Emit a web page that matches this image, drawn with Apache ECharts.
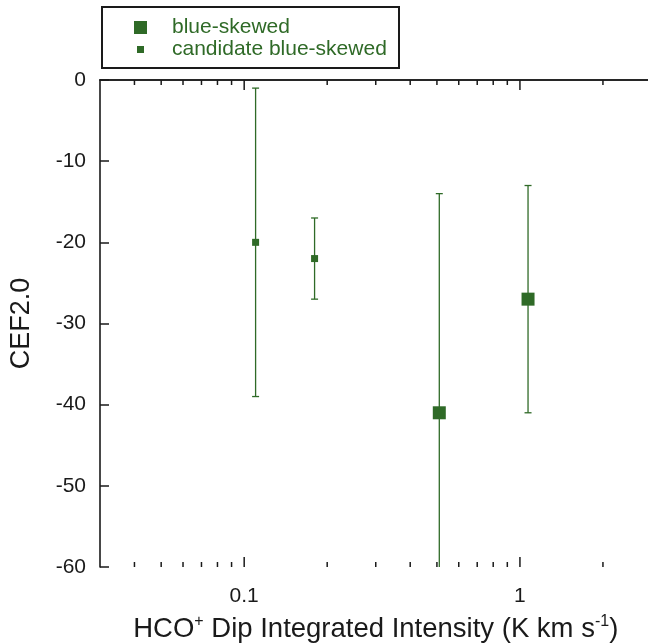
<!DOCTYPE html>
<html>
<head>
<meta charset="utf-8">
<script src="https://cdn.jsdelivr.net/npm/echarts@6/dist/echarts.min.js"></script>
<style>
  html, body { margin: 0; padding: 0; background: #fff; }
  #chart { width: 648px; height: 643px; }
</style>
</head>
<body>
<div id="chart"></div>
<script>
// blue-skewed sources: x, y and error bar ends
var blueX = [0.51, 1.07];
var blueY = [-41, -27];
var blueHigh = [-14, -13];
var blueLow = [-68, -41];

// candidate blue-skewed sources
var candX = [0.11, 0.18];
var candY = [-20, -22];
var candHigh = [-1, -17];
var candLow = [-39, -27];

// log axis tick values
var majorTicks = [0.1, 1];
var minorTicks = [0.04, 0.05, 0.06, 0.07, 0.08, 0.09, 0.2, 0.3, 0.4, 0.5, 0.6, 0.7, 0.8, 0.9, 2, 3];

var green = '#2f6a27';
var ink = '#1a1a1a';
var font = '"Liberation Sans", Arial, Helvetica, sans-serif';

function points(xs, ys) {
    var out = [];
    for (var i = 0; i < xs.length; i++) out.push([xs[i], ys[i]]);
    return out;
}
function bars(xs, lo, hi) {
    var out = [];
    for (var i = 0; i < xs.length; i++) out.push([xs[i], lo[i], hi[i]]);
    return out;
}

// vertical error bar with caps
function renderErr(params, api) {
    var lo = api.coord([api.value(0), api.value(1)]);
    var hi = api.coord([api.value(0), api.value(2)]);
    var cap = 3.5;
    var st = { stroke: green, lineWidth: 1.3 };
    return {
        type: 'group',
        children: [
            { type: 'line', shape: { x1: lo[0], y1: lo[1], x2: hi[0], y2: hi[1] }, style: st },
            { type: 'line', shape: { x1: lo[0] - cap, y1: lo[1], x2: lo[0] + cap, y2: lo[1] }, style: st },
            { type: 'line', shape: { x1: hi[0] - cap, y1: hi[1], x2: hi[0] + cap, y2: hi[1] }, style: st }
        ]
    };
}

// inward ticks on bottom and top axes
function tickRenderer(len) {
    return function (params, api) {
        var b = api.coord([api.value(0), -60]);
        var t = api.coord([api.value(0), 0]);
        var st = { stroke: ink, lineWidth: 1.5 };
        return {
            type: 'group',
            children: [
                { type: 'line', shape: { x1: b[0], y1: b[1], x2: b[0], y2: b[1] - len }, style: st },
                { type: 'line', shape: { x1: t[0], y1: t[1], x2: t[0], y2: t[1] + len }, style: st }
            ]
        };
    };
}

function makeX(pos, withLabels) {
    var ax = {
        type: 'log',
        logBase: 10,
        min: 0.03,
        max: 3,
        position: pos,
        gridIndex: 0,
        axisLine: { show: true, lineStyle: { color: ink, width: 1.6 } },
        axisTick: { show: false },
        splitLine: { show: false },
        minorTick: { show: false },
        minorSplitLine: { show: false },
        axisLabel: { show: false }
    };
    if (withLabels) {
        ax.name = '{n|HCO}{sup|+}{n| Dip Integrated Intensity (K km s}{sup|-1}{n|)}';
        ax.nameLocation = 'middle';
        ax.nameGap = 47;
        ax.nameTextStyle = {
            rich: {
                n: { fontSize: 27.5, lineHeight: 31, color: ink, fontFamily: font },
                sup: { fontSize: 16, lineHeight: 21, verticalAlign: 'top', color: ink, fontFamily: font }
            }
        };
        ax.axisLabel = {
            show: true,
            margin: 19,
            fontSize: 21,
            color: ink,
            fontFamily: font,
            showMinLabel: false,
            showMaxLabel: false
        };
    }
    return ax;
}

var chart = echarts.init(document.getElementById('chart'), null, { renderer: 'canvas' });

var option = {
    animation: false,
    backgroundColor: '#fff',
    textStyle: { fontFamily: font },
    grid: {
        left: 100,
        top: 80,
        right: -3.5,
        bottom: 76,
        containLabel: false,
        outerBoundsMode: 'none'
    },
    graphic: [{
        type: 'rect',
        shape: { x: 102, y: 7, width: 297, height: 61 },
        style: { fill: 'none', stroke: ink, lineWidth: 2 },
        z: 100
    }],
    legend: [{
        data: ['blue-skewed'],
        icon: 'rect',
        itemWidth: 13,
        itemHeight: 13,
        left: 134,
        top: 16,
        padding: 0,
        selectedMode: false,
        textStyle: { color: green, fontSize: 21, lineHeight: 23, fontFamily: font, padding: [0, 0, 0, 20] }
    }, {
        data: ['candidate blue-skewed'],
        icon: 'rect',
        itemWidth: 7,
        itemHeight: 7,
        left: 137,
        top: 38,
        padding: 0,
        selectedMode: false,
        textStyle: { color: green, fontSize: 21, lineHeight: 23, fontFamily: font, padding: [0, 0, 0, 23] }
    }],
    xAxis: [makeX('bottom', true), makeX('top', false)],
    yAxis: [{
        type: 'value',
        min: -60,
        max: 0,
        interval: 10,
        name: 'CEF2.0',
        nameLocation: 'middle',
        nameGap: 65,
        nameTextStyle: { fontSize: 27, color: ink, fontFamily: font },
        axisLine: { show: true, lineStyle: { color: ink, width: 1.6 } },
        axisTick: { show: true, inside: true, length: 9, lineStyle: { color: ink, width: 1.5 } },
        axisLabel: { fontSize: 21, color: ink, margin: 14, fontFamily: font },
        splitLine: { show: false }
    }],
    series: [{
        name: 'major ticks',
        type: 'custom',
        xAxisIndex: 0,
        yAxisIndex: 0,
        renderItem: tickRenderer(10),
        data: majorTicks.map(function (v) { return [v]; }),
        encode: { x: 0 },
        silent: true,
        clip: false,
        z: 5
    }, {
        name: 'minor ticks',
        type: 'custom',
        xAxisIndex: 0,
        yAxisIndex: 0,
        renderItem: tickRenderer(5),
        data: minorTicks.map(function (v) { return [v]; }),
        encode: { x: 0 },
        silent: true,
        clip: false,
        z: 5
    }, {
        name: 'blue-skewed err',
        type: 'custom',
        xAxisIndex: 0,
        renderItem: renderErr,
        data: bars(blueX, blueLow, blueHigh),
        encode: { x: 0, y: [1, 2] },
        clip: true,
        z: 2
    }, {
        name: 'candidate err',
        type: 'custom',
        xAxisIndex: 0,
        renderItem: renderErr,
        data: bars(candX, candLow, candHigh),
        encode: { x: 0, y: [1, 2] },
        clip: true,
        z: 2
    }, {
        name: 'blue-skewed',
        type: 'scatter',
        xAxisIndex: 0,
        symbol: 'rect',
        symbolSize: 13,
        itemStyle: { color: green, opacity: 1 },
        data: points(blueX, blueY),
        z: 3
    }, {
        name: 'candidate blue-skewed',
        type: 'scatter',
        xAxisIndex: 0,
        symbol: 'rect',
        symbolSize: 7,
        itemStyle: { color: green, opacity: 1 },
        data: points(candX, candY),
        z: 3
    }]
};

chart.setOption(option);
</script>
</body>
</html>
